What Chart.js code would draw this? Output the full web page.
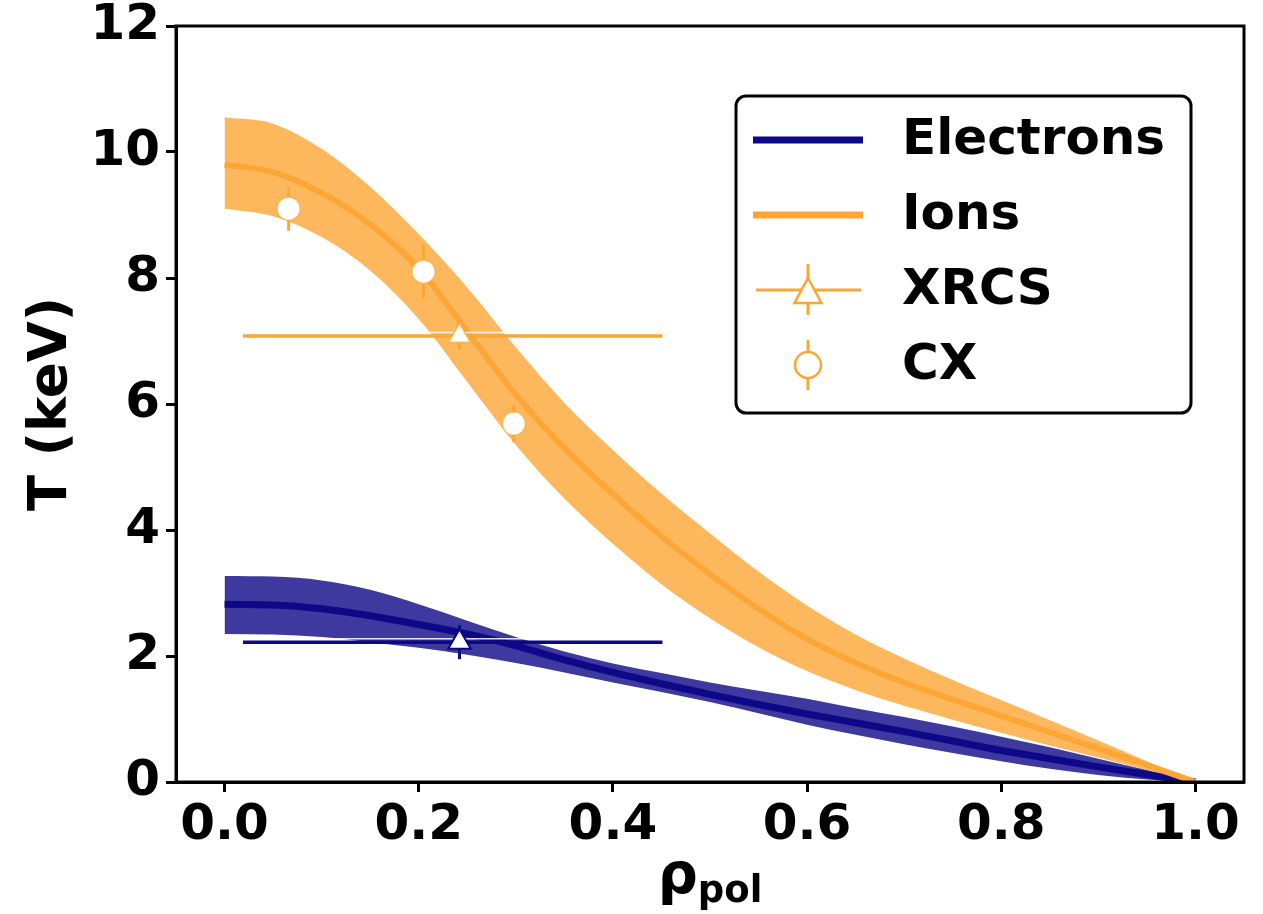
<!DOCTYPE html>
<html>
<head>
<meta charset="utf-8">
<script src="https://cdn.jsdelivr.net/npm/chart.js@4.4.1/dist/chart.umd.min.js"></script>
<style>
  html, body { margin: 0; padding: 0; background: #ffffff; }
  canvas { display: block; }
</style>
</head>
<body>
<canvas id="c" width="1263" height="914"></canvas>
<script>
// Radial grid (normalised poloidal flux radius)
const rho = [0.00, 0.05, 0.10, 0.15, 0.20, 0.25, 0.30, 0.35, 0.40, 0.45, 0.50,
             0.55, 0.60, 0.65, 0.70, 0.75, 0.80, 0.85, 0.90, 0.95, 1.00];

// Electron temperature profile (keV): median and uncertainty band
const teMid = [2.82, 2.81, 2.75, 2.64, 2.50, 2.35, 2.16, 1.94, 1.74, 1.56, 1.39,
               1.23, 1.08, 0.94, 0.80, 0.65, 0.50, 0.37, 0.24, 0.12, 0.00];
const teUp  = [3.27, 3.26, 3.20, 3.05, 2.82, 2.56, 2.30, 2.07, 1.88, 1.73, 1.58,
               1.45, 1.32, 1.17, 1.03, 0.88, 0.72, 0.55, 0.37, 0.19, 0.00];
const teLo  = [2.35, 2.34, 2.30, 2.22, 2.13, 2.02, 1.89, 1.74, 1.58, 1.43, 1.27,
               1.09, 0.91, 0.75, 0.60, 0.46, 0.33, 0.21, 0.11, 0.04, 0.00];

// Ion temperature profile (keV): median and uncertainty band
const tiMid = [9.80, 9.68, 9.35, 8.85, 8.15, 7.15, 6.15, 5.30, 4.57, 3.90, 3.30,
               2.75, 2.27, 1.89, 1.58, 1.31, 1.05, 0.79, 0.53, 0.27, 0.00];
const tiUp  = [10.55, 10.45, 10.05, 9.45, 8.70, 7.85, 6.90, 6.02, 5.27, 4.58, 3.95,
               3.34, 2.80, 2.34, 1.96, 1.62, 1.30, 0.98, 0.66, 0.33, 0.00];
const tiLo  = [9.10, 8.98, 8.65, 8.12, 7.35, 6.35, 5.35, 4.50, 3.78, 3.14, 2.60,
               2.14, 1.76, 1.46, 1.21, 0.99, 0.78, 0.58, 0.39, 0.19, 0.00];

// XRCS line-integrated measurements: [electrons, ions]
const xrcsRho   = [0.242, 0.242];
const xrcsT     = [2.22, 7.08];
const xrcsTErr  = [0.27, 0.22];
const xrcsRhoLo = [0.019, 0.019];
const xrcsRhoHi = [0.451, 0.451];

// Charge-exchange ion temperature measurements
const cxRho  = [0.066, 0.205, 0.298];
const cxT    = [9.10, 8.10, 5.69];
const cxTErr = [0.35, 0.42, 0.30];

// Axis ticks
const xTicks = [0.0, 0.2, 0.4, 0.6, 0.8, 1.0];
const yTicks = [0, 2, 4, 6, 8, 10, 12];

// Legend entries
const legendLabels = ['Electrons', 'Ions', 'XRCS', 'CX'];

// ---- styling ----
const NAVY = '#0d0887';
const ORANGE = '#fca636';
const NAVY_BAND = 'rgba(13, 8, 135, 0.8)';
const ORANGE_BAND = 'rgba(252, 166, 54, 0.8)';
const FONT = '"DejaVu Sans", "Liberation Sans", sans-serif';

const pts = (xs, ys) => xs.map((x, i) => ({ x: x, y: ys[i] }));

const bandStyle = { pointRadius: 0, borderWidth: 0, cubicInterpolationMode: 'monotone', showLine: true };

// Error bars drawn under each marker dataset through the chart scales
const errorBarPlugin = {
  id: 'errorBars',
  beforeDatasetDraw(chart, args) {
    const ds = chart.data.datasets[args.index];
    if (!ds.errorBars) return;
    const { ctx, chartArea, scales: { x, y } } = chart;
    ctx.save();
    ctx.beginPath();
    ctx.rect(chartArea.left, chartArea.top, chartArea.right - chartArea.left, chartArea.bottom - chartArea.top);
    ctx.clip();
    ctx.lineCap = 'butt';
    ds.errorBars.forEach(e => {
      const px = x.getPixelForValue(e.x);
      const py = y.getPixelForValue(e.y);
      if (e.xLo !== undefined) {
        const x0 = x.getPixelForValue(e.xLo), x1 = x.getPixelForValue(e.xHi);
        ctx.strokeStyle = 'rgba(255,255,255,0.85)';
        ctx.lineWidth = 1.5;
        ctx.beginPath(); ctx.moveTo(x0, py - 3.5); ctx.lineTo(x1, py - 3.5); ctx.stroke();
        ctx.strokeStyle = e.color;
        ctx.lineWidth = 3.5;
        ctx.beginPath(); ctx.moveTo(x0, py); ctx.lineTo(x1, py); ctx.stroke();
      }
      ctx.strokeStyle = e.color;
      ctx.lineWidth = 3;
      ctx.beginPath();
      ctx.moveTo(px, y.getPixelForValue(e.y - e.yErr));
      ctx.lineTo(px, y.getPixelForValue(e.y + e.yErr));
      ctx.stroke();
    });
    ctx.restore();
  }
};

// Full frame around the plotting area
const framePlugin = {
  id: 'frame',
  afterDatasetsDraw(chart) {
    const { ctx, chartArea: a } = chart;
    ctx.save();
    ctx.strokeStyle = '#000';
    ctx.lineWidth = 3;
    ctx.strokeRect(a.left, a.top, a.right - a.left, a.bottom - a.top);
    ctx.restore();
  }
};

// Axis titles (x title carries a subscript)
const titlePlugin = {
  id: 'titles',
  afterDraw(chart) {
    const { ctx, chartArea: a } = chart;
    ctx.save();
    ctx.fillStyle = '#000';
    ctx.translate(52, (a.top + a.bottom) / 2);
    ctx.rotate(-Math.PI / 2);
    ctx.font = 'bold 53px ' + FONT;
    ctx.textAlign = 'center';
    ctx.textBaseline = 'middle';
    ctx.fillText('T (keV)', 0, 0);
    ctx.restore();

    ctx.save();
    ctx.fillStyle = '#000';
    ctx.textBaseline = 'alphabetic';
    ctx.textAlign = 'left';
    const main = 'ρ', sub = 'pol';
    ctx.font = 'bold 56px ' + FONT;
    const w1 = ctx.measureText(main).width;
    ctx.font = 'bold 37px ' + FONT;
    const w2 = ctx.measureText(sub).width;
    const cx = (a.left + a.right) / 2;
    const x0 = cx - (w1 + w2) / 2;
    const base = 893;
    ctx.font = 'bold 56px ' + FONT;
    ctx.fillText(main, x0, base);
    ctx.font = 'bold 37px ' + FONT;
    ctx.fillText(sub, x0 + w1, base + 9);
    ctx.restore();
  }
};

// Legend box with line and error-bar handles
const legendPlugin = {
  id: 'customLegend',
  afterDraw(chart) {
    const { ctx } = chart;
    const bx = 736, by = 96, bw = 455, bh = 317, r = 10;
    ctx.save();
    ctx.beginPath();
    ctx.moveTo(bx + r, by);
    ctx.arcTo(bx + bw, by, bx + bw, by + bh, r);
    ctx.arcTo(bx + bw, by + bh, bx, by + bh, r);
    ctx.arcTo(bx, by + bh, bx, by, r);
    ctx.arcTo(bx, by, bx + bw, by, r);
    ctx.closePath();
    ctx.fillStyle = '#fff';
    ctx.fill();
    ctx.strokeStyle = '#000';
    ctx.lineWidth = 3;
    ctx.stroke();

    const hx0 = 753, hx1 = 863, hc = 808;
    const rows = [140, 215, 290, 365];
    ctx.lineCap = 'butt';
    ctx.lineWidth = 7;
    ctx.strokeStyle = NAVY;
    ctx.beginPath(); ctx.moveTo(hx0, rows[0]); ctx.lineTo(hx1, rows[0]); ctx.stroke();
    ctx.strokeStyle = ORANGE;
    ctx.beginPath(); ctx.moveTo(hx0, rows[1]); ctx.lineTo(hx1, rows[1]); ctx.stroke();
    // XRCS handle
    ctx.lineWidth = 3;
    ctx.beginPath(); ctx.moveTo(756, rows[2]); ctx.lineTo(861, rows[2]); ctx.stroke();
    ctx.beginPath(); ctx.moveTo(hc, rows[2] - 26); ctx.lineTo(hc, rows[2] + 25); ctx.stroke();
    ctx.beginPath();
    ctx.moveTo(hc, rows[2] - 12);
    ctx.lineTo(hc + 13.5, rows[2] + 13);
    ctx.lineTo(hc - 13.5, rows[2] + 13);
    ctx.closePath();
    ctx.fillStyle = '#fff';
    ctx.fill();
    ctx.lineWidth = 2.5;
    ctx.stroke();
    // CX handle
    ctx.lineWidth = 3;
    ctx.beginPath(); ctx.moveTo(hc, rows[3] - 25); ctx.lineTo(hc, rows[3] + 25); ctx.stroke();
    ctx.beginPath(); ctx.arc(hc, rows[3], 13, 0, Math.PI * 2);
    ctx.fill();
    ctx.lineWidth = 2.5;
    ctx.stroke();

    ctx.fillStyle = '#000';
    ctx.font = 'bold 50px ' + FONT;
    ctx.textAlign = 'left';
    ctx.textBaseline = 'middle';
    legendLabels.forEach((t, i) => ctx.fillText(t, 902, rows[i] + 1));
    ctx.restore();
  }
};

const xrcsErr = xrcsRho.map((x, i) => ({
  x: x, y: xrcsT[i], yErr: xrcsTErr[i], xLo: xrcsRhoLo[i], xHi: xrcsRhoHi[i],
  color: i === 0 ? NAVY : ORANGE
}));
const cxErr = cxRho.map((x, i) => ({ x: x, y: cxT[i], yErr: cxTErr[i], color: ORANGE }));

new Chart(document.getElementById('c'), {
  type: 'scatter',
  data: {
    datasets: [
      { label: 'Te upper', data: pts(rho, teUp), backgroundColor: NAVY_BAND, fill: { target: 1 }, order: 10, ...bandStyle },
      { label: 'Te lower', data: pts(rho, teLo), backgroundColor: NAVY_BAND, fill: false, order: 10, ...bandStyle },
      { label: 'Electrons', data: pts(rho, teMid), borderColor: NAVY, borderWidth: 7, pointRadius: 0,
        showLine: true, fill: false, cubicInterpolationMode: 'monotone', order: 9 },
      { label: 'Ti upper', data: pts(rho, tiUp), backgroundColor: ORANGE_BAND, fill: { target: 4 }, order: 8, ...bandStyle },
      { label: 'Ti lower', data: pts(rho, tiLo), backgroundColor: ORANGE_BAND, fill: false, order: 8, ...bandStyle },
      { label: 'Ions', data: pts(rho, tiMid), borderColor: ORANGE, borderWidth: 6, pointRadius: 0,
        showLine: true, fill: false, cubicInterpolationMode: 'monotone', order: 7 },
      { label: 'XRCS', data: pts(xrcsRho, xrcsT), showLine: false, pointStyle: 'triangle',
        pointRadius: 13, pointBackgroundColor: '#ffffff', pointBorderColor: [NAVY, 'rgba(252,166,54,0.7)'],
        pointBorderWidth: 2, errorBars: xrcsErr, order: 3 },
      { label: 'CX', data: pts(cxRho, cxT), showLine: false, pointStyle: 'circle',
        pointRadius: 11.5, pointBackgroundColor: '#ffffff', pointBorderColor: 'rgba(252,166,54,0.6)',
        pointBorderWidth: 1.5, errorBars: cxErr, order: 2 }
    ]
  },
  options: {
    responsive: false,
    animation: false,
    devicePixelRatio: 1,
    layout: { padding: { top: 26, right: 19, left: 0, bottom: 0 } },
    plugins: { legend: { display: false }, tooltip: { enabled: false } },
    scales: {
      x: {
        type: 'linear', min: -0.05, max: 1.05,
        afterBuildTicks: s => { s.ticks = xTicks.map(v => ({ value: v })); },
        afterFit: s => { s.height = 132; s.paddingLeft = 0; s.paddingRight = 0; },
        grid: { drawOnChartArea: false, drawTicks: true, tickLength: 10, tickWidth: 3, tickColor: '#000' },
        border: { display: true, width: 3, color: '#000' },
        ticks: { color: '#000', font: { family: FONT, size: 50, weight: 'bold' }, padding: 4,
                 maxRotation: 0, callback: v => Number(v).toFixed(1) }
      },
      y: {
        type: 'linear', min: 0, max: 12,
        afterBuildTicks: s => { s.ticks = yTicks.map(v => ({ value: v })); },
        afterFit: s => { s.width = 176; s.paddingTop = 0; s.paddingBottom = 0; },
        grid: { drawOnChartArea: false, drawTicks: true, tickLength: 10, tickWidth: 3, tickColor: '#000' },
        border: { display: true, width: 3, color: '#000' },
        ticks: { color: '#000', font: { family: FONT, size: 50, weight: 'bold' }, padding: 6,
                 callback: v => String(v) }
      }
    }
  },
  plugins: [errorBarPlugin, framePlugin, titlePlugin, legendPlugin]
});
</script>
</body>
</html>
